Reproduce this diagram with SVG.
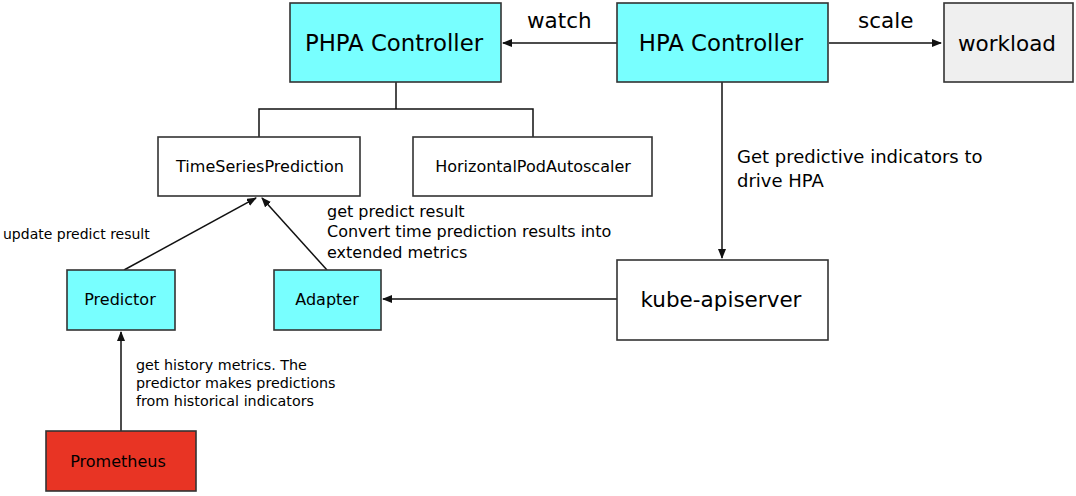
<svg xmlns="http://www.w3.org/2000/svg" width="1076" height="496" viewBox="0 0 1076 496">
<style>
.box{stroke:#333;stroke-width:1.6}
.cyan{fill:#78ffff}
.white{fill:#fff}
.grey{fill:#efefef}
.red{fill:#e83424}
text{font-family:"DejaVu Sans","Liberation Sans",sans-serif;fill:#000}
.big{font-size:21.5px}
.ctl{font-size:22.8px}
.mid{font-size:16px}
.lbl{font-size:18px}
.md2{font-size:16px}
.sm{font-size:14px}
.sm2{font-size:14.3px}
.c{text-anchor:middle}
.conn{stroke:#111;stroke-width:1.5;fill:none}
</style>
<defs>
<marker id="ah" markerWidth="10" markerHeight="8" refX="9" refY="4" orient="auto" markerUnits="userSpaceOnUse">
<path d="M0,0 L10,4 L0,8 Z" fill="#111"/>
</marker>
</defs>
<rect width="1076" height="496" fill="#fff"/>
<g id="connectors">
<line class="conn" x1="617" y1="43" x2="503" y2="43" marker-end="url(#ah)"/>
<line class="conn" x1="829" y1="43" x2="941" y2="43" marker-end="url(#ah)"/>
<line class="conn" x1="722" y1="82" x2="722" y2="258" marker-end="url(#ah)"/>
<line class="conn" x1="617" y1="299" x2="383" y2="299" marker-end="url(#ah)"/>
<line class="conn" x1="121" y1="431" x2="121" y2="332" marker-end="url(#ah)"/>
<line class="conn" x1="124" y1="270" x2="256" y2="198" marker-end="url(#ah)"/>
<line class="conn" x1="327" y1="270" x2="262" y2="198" marker-end="url(#ah)"/>
<path class="conn" d="M396,82 V109 M259,137 V109 H533 V137"/>
<text class="big" x="527" y="28">watch</text>
<text class="big" x="858" y="28">scale</text>
<text class="lbl" x="737" y="163">Get predictive indicators to</text>
<text class="lbl" x="737" y="187">drive HPA</text>
<text class="md2" x="327" y="217">get predict result</text>
<text class="md2" x="327" y="237">Convert time prediction results into</text>
<text class="md2" x="327" y="258">extended metrics</text>
<text class="sm" x="3" y="239">update predict result</text>
<text class="sm2" x="136" y="370">get history metrics. The</text>
<text class="sm2" x="136" y="388">predictor makes predictions</text>
<text class="sm2" x="136" y="406">from historical indicators</text>
</g>
<g id="phpa"><rect class="box cyan" x="290" y="3" width="211" height="79"/><text class="ctl c" x="394" y="51">PHPA Controller</text></g>
<g id="hpa"><rect class="box cyan" x="617" y="3" width="211" height="79"/><text class="ctl c" x="721" y="51">HPA Controller</text></g>
<g id="workload"><rect class="box grey" x="944" y="3" width="129" height="79"/><text class="big c" x="1007" y="51">workload</text></g>
<g id="tsp"><rect class="box white" x="158" y="137" width="202" height="59"/><text class="mid c" x="260" y="172">TimeSeriesPrediction</text></g>
<g id="hpaobj"><rect class="box white" x="413" y="137" width="239" height="59"/><text class="mid c" x="533" y="172">HorizontalPodAutoscaler</text></g>
<g id="predictor"><rect class="box cyan" x="67" y="270" width="108" height="60"/><text class="mid c" x="120" y="305">Predictor</text></g>
<g id="adapter"><rect class="box cyan" x="274" y="270" width="107" height="60"/><text class="mid c" x="327" y="305">Adapter</text></g>
<g id="kube"><rect class="box white" x="617" y="260" width="211" height="80"/><text class="big c" x="721" y="307">kube-apiserver</text></g>
<g id="prometheus"><rect class="box red" x="46" y="431" width="150" height="60"/><text class="mid c" x="118" y="467">Prometheus</text></g>
</svg>
